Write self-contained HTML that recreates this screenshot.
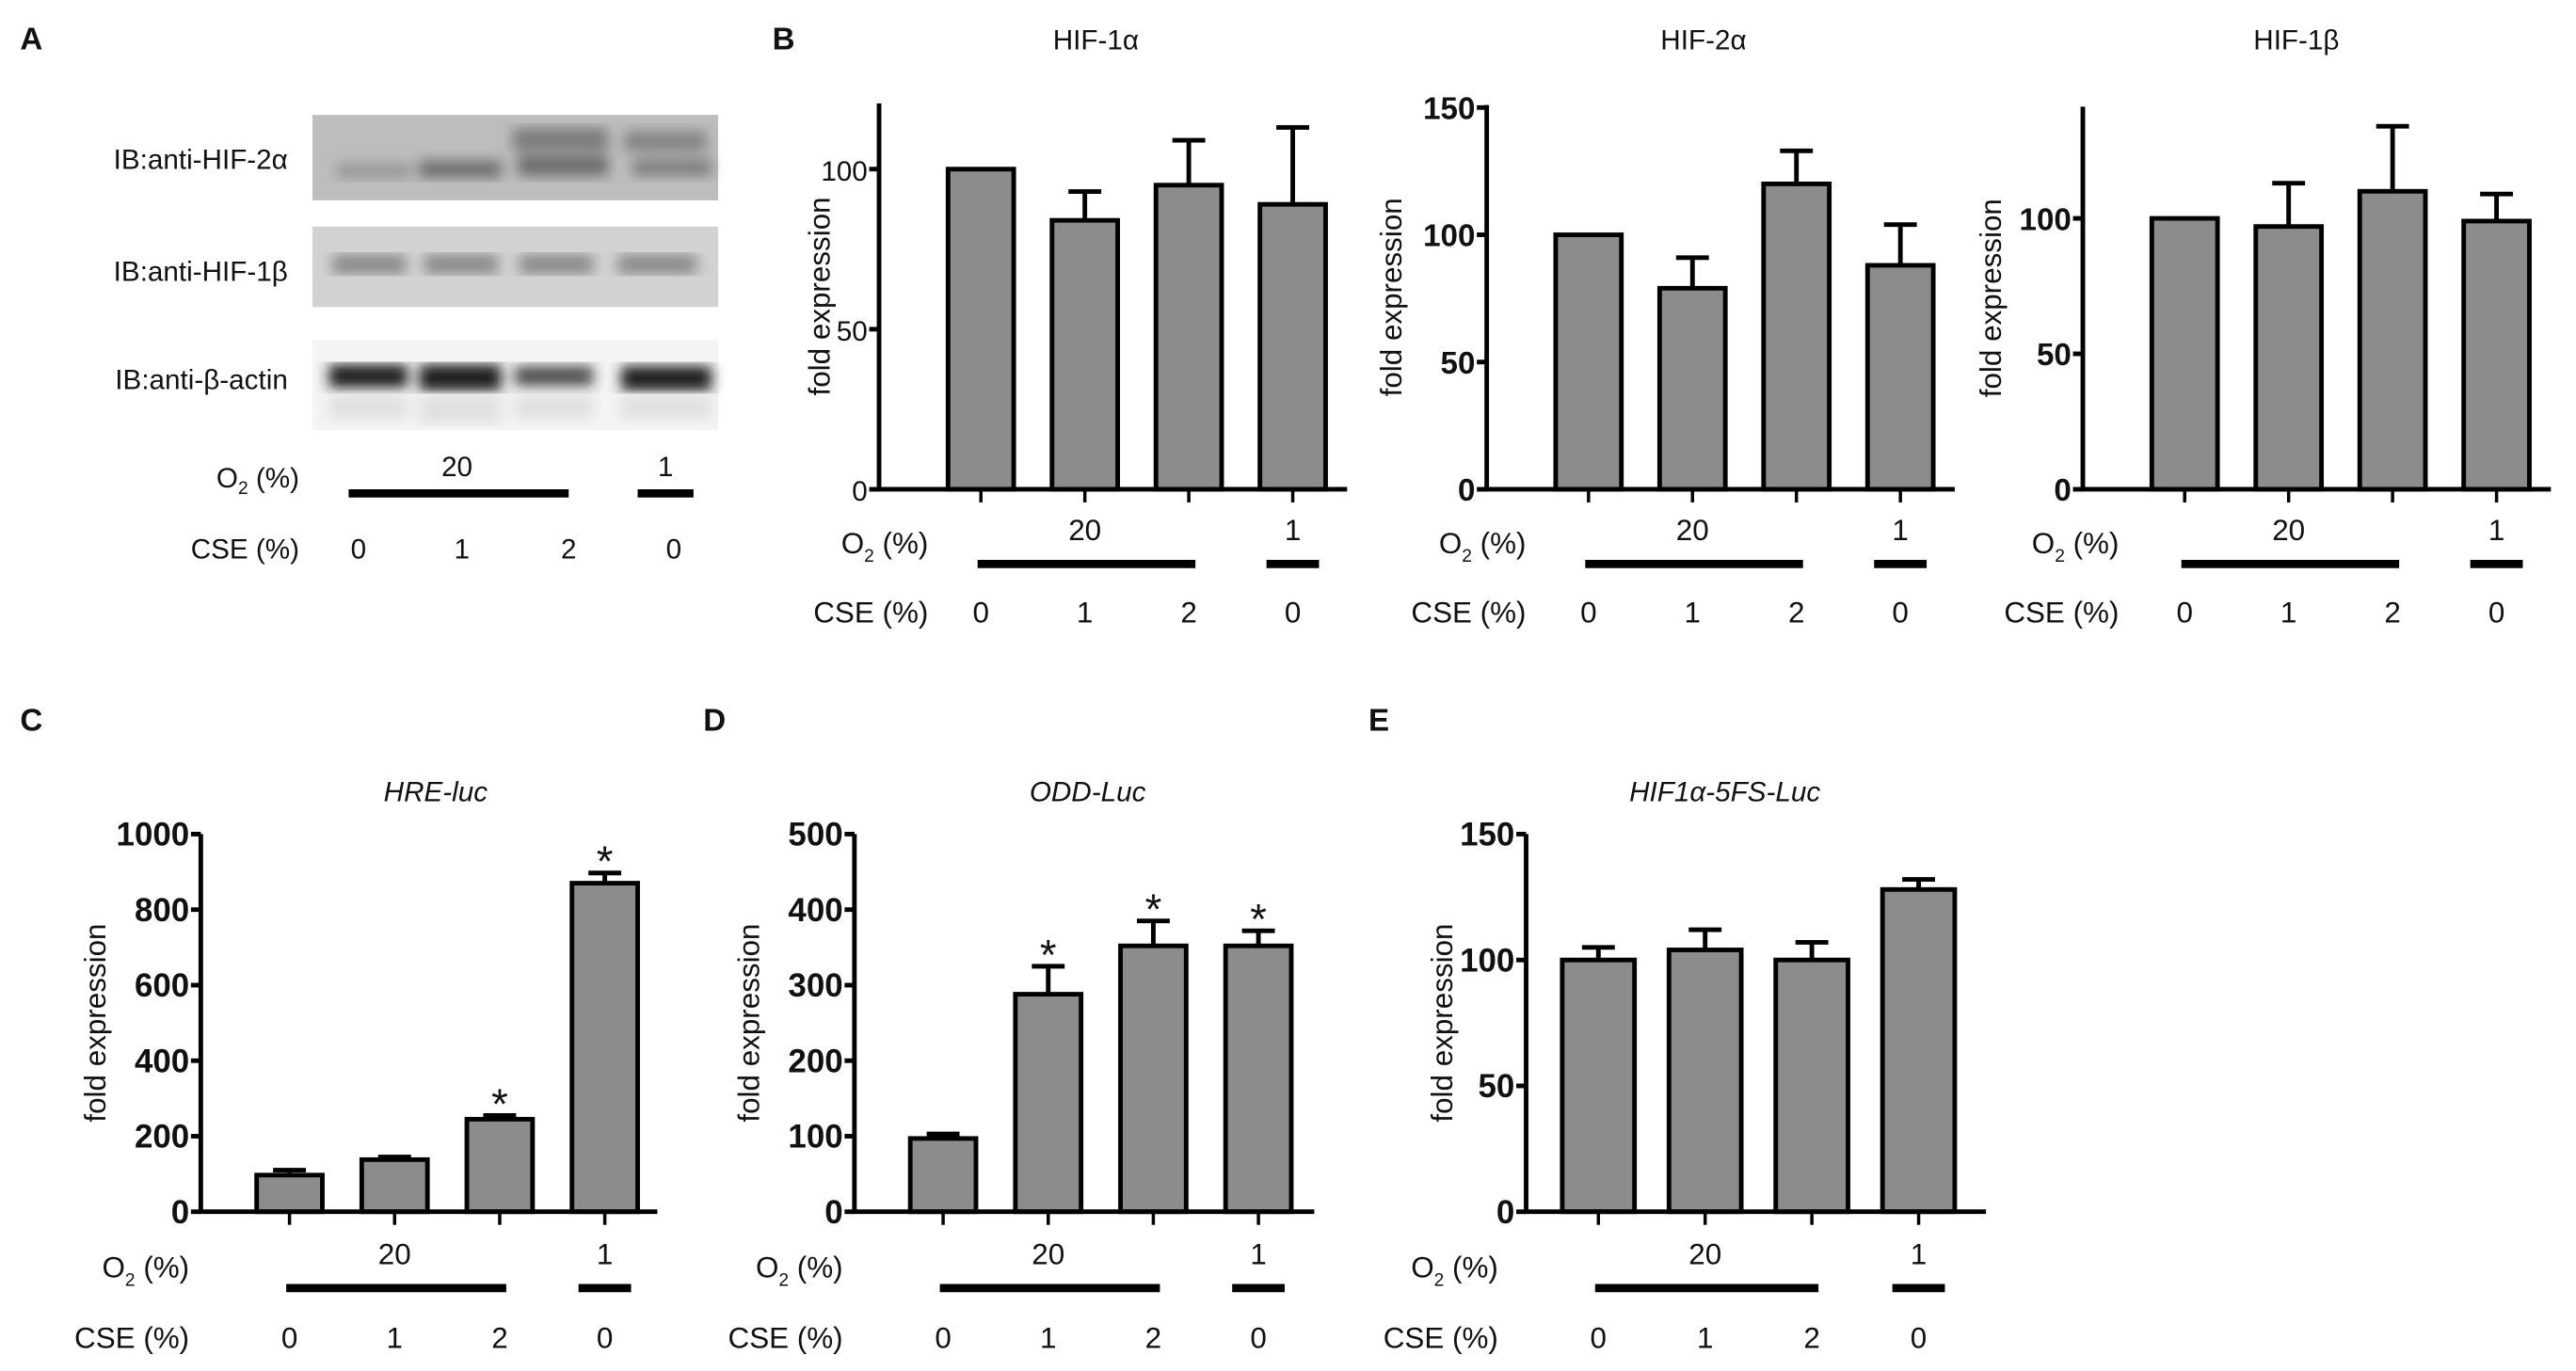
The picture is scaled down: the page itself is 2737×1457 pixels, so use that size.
<!DOCTYPE html>
<html><head><meta charset="utf-8"><style>
html,body{margin:0;padding:0;background:#fff}
svg{display:block}
text{font-family:"Liberation Sans",sans-serif;fill:#111}
</style></head><body>
<svg id="fig" width="2737" height="1457" viewBox="0 0 1568 835" xmlns="http://www.w3.org/2000/svg">
<defs>
<filter id="blur" x="-10%" y="-10%" width="120%" height="120%"><feGaussianBlur stdDeviation="4"/></filter>
</defs>
<g>
<text x="12" y="30" font-size="19" font-weight="bold">A</text>
<rect x="190" y="70" width="247" height="52" fill="#bdbdbd"/>
<g filter="url(#blur)" fill="#6a6a6a">
<rect x="205" y="100" width="45" height="8" opacity="0.5"/><rect x="255" y="98" width="50" height="10"/><rect x="315" y="95" width="55" height="12"/><rect x="312" y="78" width="58" height="14" opacity="0.8"/><rect x="385" y="97" width="48" height="10" opacity="0.8"/><rect x="380" y="80" width="50" height="12" opacity="0.7"/>
</g>
<rect x="190" y="138" width="247" height="49" fill="#d2d2d2"/>
<g filter="url(#blur)" fill="#8a8a8a">
<rect x="202" y="155" width="45" height="12"/><rect x="258" y="155" width="45" height="12"/><rect x="316" y="155" width="45" height="12"/><rect x="376" y="155" width="48" height="12"/>
</g>
<rect x="190" y="207" width="247" height="55" fill="#f4f4f4"/>
<g filter="url(#blur)" fill="#1e1e1e">
<rect x="200" y="222" width="48" height="14"/><rect x="255" y="222" width="50" height="16"/><rect x="313" y="223" width="48" height="12" opacity="0.8"/><rect x="378" y="223" width="55" height="15"/>
</g>
<g filter="url(#blur)" fill="#d8d8d8" opacity="0.7">
<rect x="200" y="240" width="48" height="15"/><rect x="255" y="240" width="50" height="18"/><rect x="313" y="240" width="48" height="15"/><rect x="378" y="240" width="55" height="15"/>
</g>
<text x="175" y="103" font-size="17" text-anchor="end">IB:anti-HIF-2α</text>
<text x="175" y="171" font-size="17" text-anchor="end">IB:anti-HIF-1β</text>
<text x="175" y="237" font-size="17" text-anchor="end">IB:anti-β-actin</text>
<text x="182" y="297" font-size="17" text-anchor="end">O<tspan font-size="11" dy="4">2</tspan><tspan dy="-4"> (%)</tspan></text>
<text x="278" y="290" font-size="17" text-anchor="middle">20</text>
<text x="405" y="290" font-size="17" text-anchor="middle">1</text>
<rect x="212" y="298" width="134" height="5" fill="#000"/>
<rect x="388" y="298" width="34" height="5" fill="#000"/>
<text x="182" y="340" font-size="17" text-anchor="end">CSE (%)</text>
<text x="218" y="340" font-size="17" text-anchor="middle">0</text>
<text x="281" y="340" font-size="17" text-anchor="middle">1</text>
<text x="346" y="340" font-size="17" text-anchor="middle">2</text>
<text x="410" y="340" font-size="17" text-anchor="middle">0</text>
</g>
<text x="470" y="30" font-size="19" font-weight="bold">B</text>
<text x="12" y="445" font-size="19" font-weight="bold">C</text>
<text x="428" y="445" font-size="19" font-weight="bold">D</text>
<text x="833" y="445" font-size="19" font-weight="bold">E</text>
<g id="charts"></g>
</svg>
<script>
const NS="http://www.w3.org/2000/svg";
const categories=["0","1","2","0"];
const hif1aValues=[100,84,95,89];
const hif1aErr=[0,9,14,24];
const hif2aValues=[100,79,120,88];
const hif2aErr=[0,12,13,16];
const hif1bValues=[100,97,110,99];
const hif1bErr=[0,16,24,10];
const hreValues=[97,138,245,870];
const hreErr=[13,7,10,27];
const oddValues=[97,288,352,352];
const oddErr=[6,37,33,20];
const fsValues=[100,104,100,128];
const fsErr=[5,8,7,4];
const hif1aTicks=[0,50,100];
const hif2aTicks=[0,50,100,150];
const hif1bTicks=[0,50,100];
const hreTicks=[0,200,400,600,800,1000];
const oddTicks=[0,100,200,300,400,500];
const fsTicks=[0,50,100,150];
const hreStars=[false,false,true,true];
const oddStars=[false,true,true,true];
const fsStars=[false,false,false,false];
const noStars=[false,false,false,false];

const root=document.getElementById('charts');
function mk(tag,attrs,parent,txt){const e=document.createElementNS(NS,tag);for(const k in attrs)e.setAttribute(k,attrs[k]);if(txt!==undefined)e.textContent=txt;(parent||root).appendChild(e);return e;}

function chart(cfg){
  const g=mk('g',{});
  
  
  const y=v=>cfg.y0-(v-cfg.vmin)/(cfg.vmax-cfg.vmin)*(cfg.y0-cfg.y1);
  const x=i=>cfg.x0+cfg.first+i*cfg.step;
  const t=mk('text',{x:cfg.titleX,y:cfg.titleY,'font-size':17,'text-anchor':'middle','font-style':cfg.italic?'italic':'normal'},g,cfg.title);
  
  
  const yl=mk('text',{x:0,y:0,'font-size':18,'text-anchor':'middle',transform:`translate(${cfg.x0-cfg.ylOff},${(cfg.y0+cfg.top)/2}) rotate(-90)`},g,'fold expression');
  
  
  cfg.values.forEach((v,i)=>{
    const cx=x(i),hw=cfg.bw/2;
    if(cfg.err[i]>0){
      const et=y(v+cfg.err[i]);
      const el=mk('path',{d:`M${cx} ${y(v)}V${et}M${cx-10} ${et}H${cx+10}`,stroke:'#000','stroke-width':2.8,fill:'none'},g);
      
      
    }
    const r=mk('rect',{x:cx-hw,y:y(v),width:cfg.bw,height:cfg.y0-y(v),fill:'#8c8c8c',stroke:'#000','stroke-width':2.8},g);
    
    
    if(cfg.stars[i]){
      const s=mk('text',{x:cx,y:y(v+cfg.err[i])-cfg.starGap+8,'font-size':26,'text-anchor':'middle'},g,'*');
      
      
    }
    mk('line',{x1:cx,x2:cx,y1:cfg.y0,y2:cfg.y0+8,stroke:'#000','stroke-width':2},g);
    const c=mk('text',{x:cx,y:cfg.cseY,'font-size':18,'text-anchor':'middle'},g,categories[i]);
    
    
  });
  const ax=mk('path',{d:`M${cfg.x0} ${cfg.top}V${cfg.y0}H${cfg.xEnd}`,stroke:'#000','stroke-width':2.8,fill:'none'},g);
  
  
  cfg.ticks.forEach(tv=>{
    mk('line',{x1:cfg.x0-6,x2:cfg.x0,y1:y(tv),y2:y(tv),stroke:'#000','stroke-width':2.8},g);
    const tl=mk('text',{x:cfg.x0-7,y:y(tv)+7,'font-size':cfg.tickSize,'font-weight':cfg.bold?'bold':'normal','text-anchor':'end'},g,tv);
    
    
  });
  const lx=cfg.x0+cfg.labelEnd;
  const o=mk('text',{x:lx,y:cfg.o2Y+8,'font-size':18,'text-anchor':'end'},g);
  
  
  o.innerHTML='O<tspan font-size="11" dy="5">2</tspan><tspan dy="-5"> (%)</tspan>';
  mk('text',{x:x(1),y:cfg.o2Y,'font-size':18,'text-anchor':'middle'},g,'20');
  mk('text',{x:x(3),y:cfg.o2Y,'font-size':18,'text-anchor':'middle'},g,'1');
  const b1=mk('rect',{x:x(0)-2,y:cfg.o2Y+12,width:x(2)-x(0)+6,height:5,fill:'#000'},g);
  
  
  const b2=mk('rect',{x:x(3)-16,y:cfg.o2Y+12,width:32,height:5,fill:'#000'},g);
  
  
  const cl=mk('text',{x:lx,y:cfg.cseY,'font-size':18,'text-anchor':'end'},g,'CSE (%)');
  
  
}
const B={y0:298,first:62,step:63.3,bw:40,o2Y:329,cseY:379,tickSize:17,ylOff:30,starGap:6,titleY:30,stars:noStars,labelEnd:30};
chart(Object.assign({},B,{name:'chart-hif1a',title:'HIF-1α',titleX:667,x0:535,xEnd:820,top:63,y1:103,vmin:0,vmax:100,values:hif1aValues,err:hif1aErr,ticks:hif1aTicks,bold:false,ylOff:30}));
chart(Object.assign({},B,{name:'chart-hif2a',title:'HIF-2α',titleX:1037,x0:905,xEnd:1190,top:64,y1:143,vmin:0,vmax:100,values:hif2aValues,err:hif2aErr,ticks:hif2aTicks,bold:true,tickSize:19,ylOff:52,labelEnd:24}));
chart(Object.assign({},B,{name:'chart-hif1b',title:'HIF-1β',titleX:1398,x0:1268,xEnd:1553,top:65,y1:133,vmin:0,vmax:100,values:hif1bValues,err:hif1bErr,ticks:hif1bTicks,bold:true,tickSize:19,ylOff:50,labelEnd:22}));
const C={y0:738,first:54,step:64,bw:40,o2Y:770,cseY:821,tickSize:20,bold:true,ylOff:58,starGap:6,titleY:488,italic:true,labelEnd:-7};
chart(Object.assign({},C,{name:'chart-hre-luc',title:'HRE-luc',titleX:265,x0:122,xEnd:400,top:508,y1:508,vmin:0,vmax:1000,values:hreValues,err:hreErr,ticks:hreTicks,stars:hreStars}));
chart(Object.assign({},C,{name:'chart-odd-luc',title:'ODD-Luc',titleX:662,x0:520,xEnd:800,top:508,y1:508,vmin:0,vmax:500,values:oddValues,err:oddErr,ticks:oddTicks,stars:oddStars}));
chart(Object.assign({},C,{name:'chart-hif1a-5fs-luc',title:'HIF1α-5FS-Luc',titleX:1050,x0:929,xEnd:1209,top:508,y1:508,vmin:0,vmax:150,values:fsValues,err:fsErr,ticks:fsTicks,stars:fsStars,first:44,step:65,bw:44,ylOff:45,labelEnd:-17}));
</script>
</body></html>
